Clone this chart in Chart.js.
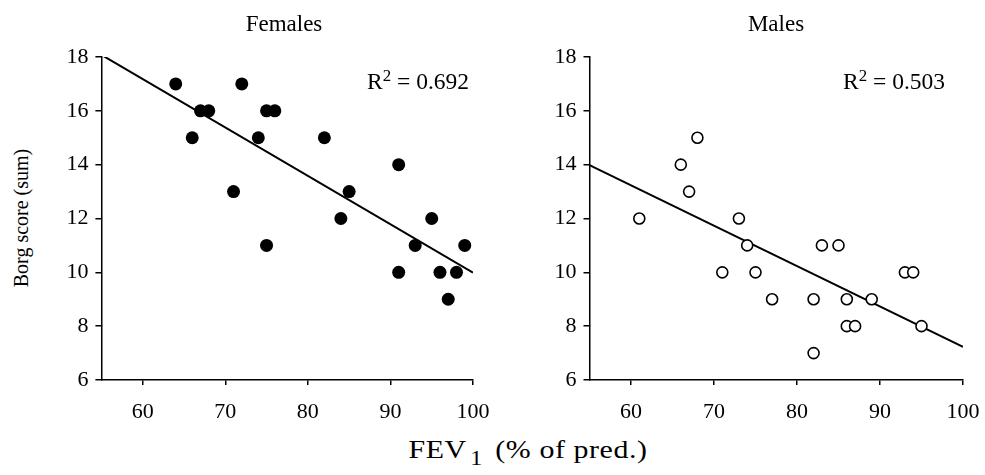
<!DOCTYPE html>
<html>
<head>
<meta charset="utf-8">
<script src="https://cdn.jsdelivr.net/npm/chart.js@4.4.0/dist/chart.umd.min.js"></script>
<style>
  body { margin: 0; background: #fff; font-family: "Liberation Serif", "Times New Roman", serif; color: #000; }
  #wrap { position: relative; width: 985px; height: 475px; overflow: hidden; }
  .box { position: absolute; top: 0; width: 450px; height: 430px; }
  .txt { position: absolute; white-space: nowrap; line-height: 1; }
  sup { font-size: 0.72em; vertical-align: 0.45em; line-height: 0; }
  .sub { font-size: 0.8em; position: relative; top: 0.32em; margin: 0 4px 0 3px; }
</style>
</head>
<body>
<div id="wrap">
  <div class="box" style="left:40px"><canvas id="femaleChart"></canvas></div>
  <div class="box" style="left:530px"><canvas id="maleChart"></canvas></div>

  <div class="txt" style="left:284px; top:12px; font-size:23px; transform:translateX(-50%)">Females</div>
  <div class="txt" style="left:776px; top:12px; font-size:23px; transform:translateX(-50%)">Males</div>
  <div class="txt" style="left:367px; top:70px; font-size:23.5px">R<sup>2</sup> = 0.692</div>
  <div class="txt" style="left:843px; top:70px; font-size:23.5px">R<sup>2</sup> = 0.503</div>
  <div class="txt" style="left:21px; top:218px; font-size:20px; transform:translate(-50%,-50%) rotate(-90deg)">Borg score (sum)</div>
  <div class="txt" style="left:528px; top:437px; font-size:26px; letter-spacing:0.5px; transform:translateX(-50%) scaleX(1.15)">FEV<span class="sub">1</span> (% of pred.)</div>
</div>

<script>
// values
const femaleFev  = [64, 72, 67, 68, 66, 74, 71, 75, 76, 75, 82, 85, 84, 91, 91, 93, 95, 96, 98, 97, 99];
const femaleBorg = [17, 17, 16, 16, 15, 15, 13, 16, 16, 11, 15, 13, 12, 14, 10, 11, 12, 10, 10,  9, 11];

const maleFev  = [61, 66, 67, 68, 73, 74, 71, 75, 77, 82, 83, 85, 86, 86, 87, 89, 93, 94, 95, 82];
const maleBorg = [12, 14, 13, 15, 12, 11, 10, 10,  9,  9, 11, 11,  9,  8,  8,  9, 10, 10,  8,  7];

// regression line end points (x = 55 and x = 100)
const fitFev = [55, 100];
const femaleFit = [18.08, 9.99];
const maleFit = [13.98, 7.23];

const xTicks = [60, 70, 80, 90, 100];
const yTicks = [6, 8, 10, 12, 14, 16, 18];

function pairs(xs, ys) {
    return xs.map((x, i) => ({ x: x, y: ys[i] }));
}

function createPanel(elementId, fev, borg, fit, filled, yWidth, rightPad) {
    const ctx = document.getElementById(elementId).getContext('2d');
    const tickFont = { family: 'Liberation Serif', size: 22 };
    new Chart(ctx, {
        type: 'scatter',
        data: {
            datasets: [{
                data: pairs(fev, borg),
                pointRadius: filled ? 6.5 : 5.5,
                pointBackgroundColor: filled ? '#000' : '#fff',
                pointBorderColor: '#000',
                pointBorderWidth: filled ? 0 : 1.6,
                order: 1
            }, {
                type: 'line',
                data: pairs(fitFev, fit),
                borderColor: '#000',
                borderWidth: 2,
                pointRadius: 0,
                fill: false,
                order: 2
            }]
        },
        options: {
            responsive: true,
            maintainAspectRatio: false,
            animation: false,
            layout: { padding: { top: 57, right: rightPad, left: 0, bottom: 0 } },
            plugins: { legend: { display: false }, tooltip: { enabled: false } },
            scales: {
                x: {
                    type: 'linear',
                    min: 55, max: 100,
                    afterBuildTicks: scale => { scale.ticks = xTicks.map(v => ({ value: v })); },
                    afterFit: scale => { scale.height = 50; scale.paddingLeft = 0; scale.paddingRight = 0; },
                    grid: { drawOnChartArea: false, drawTicks: true, tickLength: 5, color: '#000', lineWidth: 1.5 },
                    border: { display: true, color: '#000', width: 1.5 },
                    ticks: { color: '#000', font: tickFont, padding: 14, maxRotation: 0 }
                },
                y: {
                    type: 'linear',
                    min: 6, max: 18,
                    afterBuildTicks: scale => { scale.ticks = yTicks.map(v => ({ value: v })); },
                    afterFit: scale => { scale.width = yWidth; scale.paddingTop = 0; scale.paddingBottom = 0; },
                    grid: { drawOnChartArea: false, drawTicks: true, tickLength: 6, color: '#000', lineWidth: 1.5 },
                    border: { display: true, color: '#000', width: 1.5 },
                    ticks: { color: '#000', font: tickFont, padding: 7 }
                }
            }
        }
    });
}

createPanel('femaleChart', femaleFev, femaleBorg, femaleFit, true, 61.4, 17);
createPanel('maleChart', maleFev, maleBorg, maleFit, false, 59.5, 17);
</script>
</body>
</html>
